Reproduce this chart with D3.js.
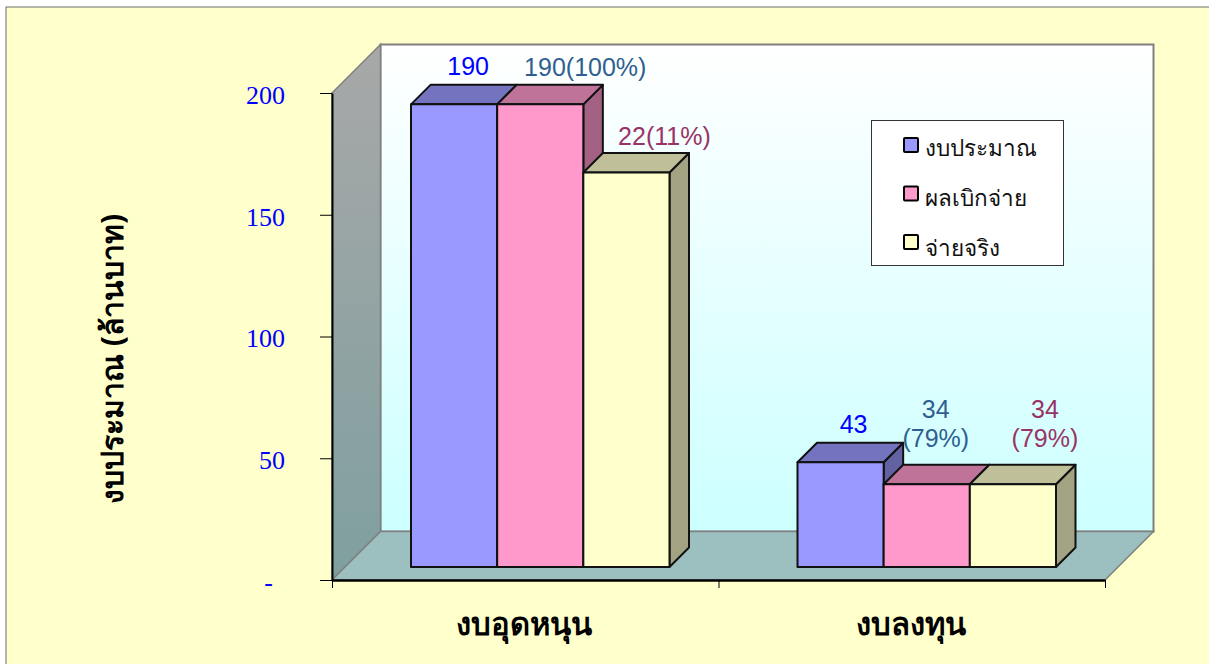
<!DOCTYPE html>
<html>
<head>
<meta charset="utf-8">
<script src="https://cdn.jsdelivr.net/npm/d3@7"></script>
<style>
  body { margin: 0; background: #fff; }
  svg { display: block; }
  .value-label { font-family: "Liberation Sans", Arial, sans-serif; font-size: 25px; text-anchor: middle; }
  .thai { font-family: "Noto Sans", "DejaVu Sans", sans-serif; }
</style>
</head>
<body>
<div id="chart"></div>
<script>
// Chart data
const categories = ["งบอุดหนุน", "งบลงทุน"];
const seriesNames = ["งบประมาณ", "ผลเบิกจ่าย", "จ่ายจริง"];
const budget = [190, 43];
const disbursed = [190, 34];
const actual = [162, 34];
const yTicks = [0, 50, 100, 150, 200];

// Labels as printed on the bars, one list per series
const budgetLabels = [["190"], ["43"]];
const disbursedLabels = [["190(100%)"], ["34", "(79%)"]];
const actualLabels = [["22(11%)"], ["34", "(79%)"]];

const seriesColors = ["#9999ff", "#ff99cc", "#ffffcc"];
const labelColors = ["#0000ff", "#2f5f8f", "#993366"];

// Hand placed label offsets from the centre of each bar's front face
const labelNudge = [
  [[14, -29], [45, -28], [38, -28]],
  [[13, -29], [9, -66], [32, -66]],
];

const width = 1209;
const height = 664;

// Plot box of the front plane, and the depth of the 3D box
const plot = { left: 332, right: 1105, top: 93, bottom: 580 };
const depth = 48.5;
const barDepth = 19.5;
const barLift = 13; // bars stand this far back on the floor
const barShift = 15;

const svg = d3
  .select("#chart")
  .append("svg")
  .attr("width", width)
  .attr("height", height);

const defs = svg.append("defs");

function gradient(id, x2, y2, from, to) {
  const g = defs
    .append("linearGradient")
    .attr("id", id)
    .attr("x1", 0)
    .attr("y1", 0)
    .attr("x2", x2)
    .attr("y2", y2);
  g.append("stop").attr("offset", 0).attr("stop-color", from);
  g.append("stop").attr("offset", 1).attr("stop-color", to);
}
gradient("backWall", 0, 1, "#ffffff", "#ccffff");
gradient("sideWall", 0, 1, "#a8a8a8", "#7f9f9f");

// Page background frame
svg
  .append("rect")
  .attr("x", 6)
  .attr("y", 7)
  .attr("width", width + 20)
  .attr("height", height + 20)
  .attr("fill", "#ffffcc")
  .attr("stroke", "#6e6e6e")
  .attr("stroke-width", 1);

// Scales
const y = d3.scaleLinear().domain([0, 200]).range([plot.bottom, plot.top]);
const x = d3.scaleBand().domain(categories).range([plot.left, plot.right]);
const xInner = d3
  .scaleBand()
  .domain(seriesNames)
  .range([0, 258.5]);
const xEdges = d3.scaleLinear().domain([0, 2]).range([plot.left, plot.right]);

const line = d3.line();
const poly = (pts) => line(pts) + "Z";

// Walls and floor
svg
  .append("path")
  .attr("d", poly([
    [plot.left + depth, plot.top - depth],
    [plot.right + depth, plot.top - depth],
    [plot.right + depth, plot.bottom - depth],
    [plot.left + depth, plot.bottom - depth],
  ]))
  .attr("fill", "url(#backWall)")
  .attr("stroke", "#808080")
  .attr("stroke-width", 2);

svg
  .append("path")
  .attr("d", poly([
    [plot.left, plot.top],
    [plot.left + depth, plot.top - depth],
    [plot.left + depth, plot.bottom - depth],
    [plot.left, plot.bottom],
  ]))
  .attr("fill", "url(#sideWall)")
  .attr("stroke", "#808080")
  .attr("stroke-width", 1.5);

svg
  .append("path")
  .attr("d", poly([
    [plot.left, plot.bottom],
    [plot.right, plot.bottom],
    [plot.right + depth, plot.bottom - depth],
    [plot.left + depth, plot.bottom - depth],
  ]))
  .attr("fill", "#9cc0c0")
  .attr("stroke", "#808080")
  .attr("stroke-width", 1.5);

// Axes
const yAxis = svg
  .append("g")
  .attr("transform", `translate(${plot.left},0)`)
  .call(
    d3
      .axisLeft(y)
      .tickValues(yTicks)
      .tickSizeInner(12)
      .tickSizeOuter(0)
      .tickFormat((d) => (d === 0 ? "-" : d))
  );
yAxis.selectAll("path, line").attr("stroke", "#000");
yAxis.select("path").attr("stroke-width", 2);
yAxis
  .selectAll("text")
  .attr("x", (d) => (d === 0 ? -59 : -47))
  .attr("dy", "0.4em")
  .attr("fill", "#0000ff")
  .style("font-family", '"Liberation Serif", "Times New Roman", serif')
  .style("font-size", "26px");

const xAxis = svg
  .append("g")
  .attr("transform", `translate(0,${plot.bottom})`)
  .call(
    d3
      .axisBottom(xEdges)
      .tickValues([0, 1, 2])
      .tickSizeInner(8)
      .tickSizeOuter(0)
      .tickFormat("")
  );
xAxis.selectAll("path, line").attr("stroke", "#000");
xAxis.select("path").attr("stroke-width", 2.5);

// Bars, drawn left to right so that the later bar hides the side of the earlier
const values = [budget, disbursed, actual];
const labels = [budgetLabels, disbursedLabels, actualLabels];

categories.forEach((cat, c) => {
  const groupX = x(cat) + (x.bandwidth() - xInner.range()[1]) / 2 + barShift;
  seriesNames.forEach((name, s) => {
    const color = d3.color(seriesColors[s]);
    const tone = (k) => d3.rgb(color.r * k, color.g * k, color.b * k).formatHex();
    const x0 = groupX + xInner(name);
    const x1 = x0 + xInner.bandwidth();
    const yTop = y(values[s][c]) - barLift;
    const yBase = y(0) - barLift;

    const bar = svg
      .append("g")
      .attr("stroke", "#111")
      .attr("stroke-width", 2)
      .attr("stroke-linejoin", "round");
    bar
      .append("path")
      .attr("d", poly([
        [x1, yTop],
        [x1 + barDepth, yTop - barDepth],
        [x1 + barDepth, yBase - barDepth],
        [x1, yBase],
      ]))
      .attr("fill", tone(0.64));
    bar
      .append("path")
      .attr("d", poly([
        [x0, yTop],
        [x0 + barDepth, yTop - barDepth],
        [x1 + barDepth, yTop - barDepth],
        [x1, yTop],
      ]))
      .attr("fill", tone(0.75));
    bar
      .append("rect")
      .attr("x", x0)
      .attr("y", yTop)
      .attr("width", x1 - x0)
      .attr("height", yBase - yTop)
      .attr("fill", seriesColors[s]);
  });
});

// Value labels, on top of all the bars
categories.forEach((cat, c) => {
  const groupX = x(cat) + (x.bandwidth() - xInner.range()[1]) / 2 + barShift;
  seriesNames.forEach((name, s) => {
    const cx = groupX + xInner(name) + xInner.bandwidth() / 2;
    const [dx, dy] = labelNudge[c][s];
    const t = svg
      .append("text")
      .attr("class", "value-label")
      .attr("fill", labelColors[s])
      .attr("transform", `translate(${cx + dx},${y(values[s][c]) - barLift + dy})`);
    labels[s][c].forEach((row, i) => {
      t.append("tspan").attr("x", 0).attr("y", i * 29).text(row);
    });
  });
});

// Category labels
svg
  .append("g")
  .selectAll("text")
  .data(categories)
  .join("text")
  .attr("class", "thai")
  .attr("x", (d) => x(d) + x.bandwidth() / 2 - 1)
  .attr("y", 635)
  .attr("text-anchor", "middle")
  .attr("font-weight", "bold")
  .attr("font-size", 31)
  .text((d) => d);

// Y axis title
svg
  .append("text")
  .attr("class", "thai")
  .attr("transform", "translate(123,359) rotate(-90)")
  .attr("text-anchor", "middle")
  .attr("font-weight", "bold")
  .attr("font-size", 30)
  .text("งบประมาณ (ล้านบาท)");

// Legend
const legend = svg.append("g");
legend
  .append("rect")
  .attr("x", 871.5)
  .attr("y", 120.5)
  .attr("width", 192)
  .attr("height", 145)
  .attr("fill", "#fff")
  .attr("stroke", "#333");

const legendRows = legend
  .selectAll("g")
  .data(seriesNames)
  .join("g")
  .attr("transform", (d, i) => `translate(904,${138 + i * 48.5})`);
legendRows
  .append("rect")
  .attr("width", 14)
  .attr("height", 14)
  .attr("rx", 1)
  .attr("fill", (d, i) => seriesColors[i])
  .attr("stroke", "#000")
  .attr("stroke-width", 2);
legendRows
  .append("text")
  .attr("class", "thai")
  .attr("x", 21)
  .attr("y", (d, i) => 18 + i * 1.5)
  .attr("font-size", 22.5)
  .attr("fill", "#111")
  .text((d) => d);
</script>
</body>
</html>
